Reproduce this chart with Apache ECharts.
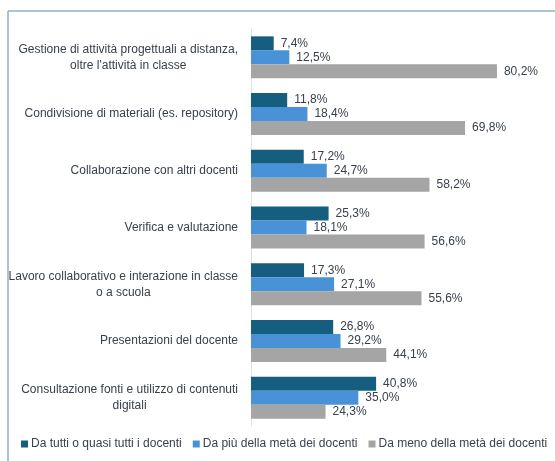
<!DOCTYPE html>
<html>
<head>
<meta charset="utf-8">
<script src="https://cdn.jsdelivr.net/npm/echarts@6/dist/echarts.min.js"></script>
<style>html,body{margin:0;padding:0;background:#fff}#c{width:555px;height:461px}</style>
</head>
<body>
<div id="c"></div>
<script>
const categories = [
  "Gestione di attività progettuali a distanza,\noltre l'attività in classe",
  "Condivisione di materiali (es. repository)",
  "Collaborazione con altri docenti",
  "Verifica e valutazione",
  "Lavoro collaborativo e interazione in classe\no a scuola",
  "Presentazioni del docente",
  "Consultazione fonti e utilizzo di contenuti\ndigitali"
];
const seriesNames = [
  "Da tutti o quasi tutti i docenti",
  "Da più della metà dei docenti",
  "Da meno della metà dei docenti"
];
const tutti = [7.4, 11.8, 17.2, 25.3, 17.3, 26.8, 40.8];
const piuMeta = [12.5, 18.4, 24.7, 18.1, 27.1, 29.2, 35.0];
const menoMeta = [80.2, 69.8, 58.2, 56.6, 55.6, 44.1, 24.3];
const colors = ["#155e7f", "#4a92d8", "#a5a5a5"];

const fontFamily = "'Liberation Sans', Arial, sans-serif";
const textColor = "#38414d";

const chart = echarts.init(document.getElementById('c'), null, {renderer: 'canvas'});
const lbl = {
  show: true, position: 'right', distance: 7,
  fontFamily: fontFamily, fontSize: 12, color: textColor,
  formatter: p => p.value.toFixed(1).replace('.', ',') + '%'
};
function mk(name, data, color) {
  return {
    name: name, type: 'bar', data: data,
    barWidth: 14, barGap: '0%', barCategoryGap: '26%',
    itemStyle: {color: color},
    label: lbl,
    animation: false
  };
}
chart.setOption({
  animation: false,
  textStyle: {fontFamily: fontFamily},
  graphic: [
    {type: 'line', shape: {x1: 8, y1: 11, x2: 555, y2: 11}, style: {stroke: '#8fb1c7', lineWidth: 1.5}},
    {type: 'line', shape: {x1: 8, y1: 11, x2: 8, y2: 461}, style: {stroke: '#8fb1c7', lineWidth: 1.5}}
  ],
  grid: {left: 251, right: 28, top: 29, bottom: 35, containLabel: false},
  xAxis: {
    type: 'value', min: 0, max: 90, show: false,
    splitLine: {show: false}
  },
  yAxis: {
    type: 'category', data: categories, inverse: true,
    axisLine: {show: true, lineStyle: {color: '#dbe4ee', width: 1}},
    axisTick: {show: false},
    axisLabel: {
      margin: 13, fontSize: 12, color: textColor, fontFamily: fontFamily,
      formatter: v => v.split('\n').map(s => '{c|' + s + '}').join('\n'),
      rich: {c: {align: 'center', fontSize: 12, color: textColor, fontFamily: fontFamily, lineHeight: 16}}
    }
  },
  legend: {
    top: 438, left: 21, padding: 0,
    icon: 'rect', itemWidth: 7, itemHeight: 7, itemGap: 11,
    textStyle: {fontSize: 12, color: textColor, fontFamily: fontFamily, padding: [0, 0, 0, -2]},
    data: seriesNames
  },
  series: [
    mk(seriesNames[0], tutti, colors[0]),
    mk(seriesNames[1], piuMeta, colors[1]),
    mk(seriesNames[2], menoMeta, colors[2])
  ]
});
</script>
</body>
</html>
